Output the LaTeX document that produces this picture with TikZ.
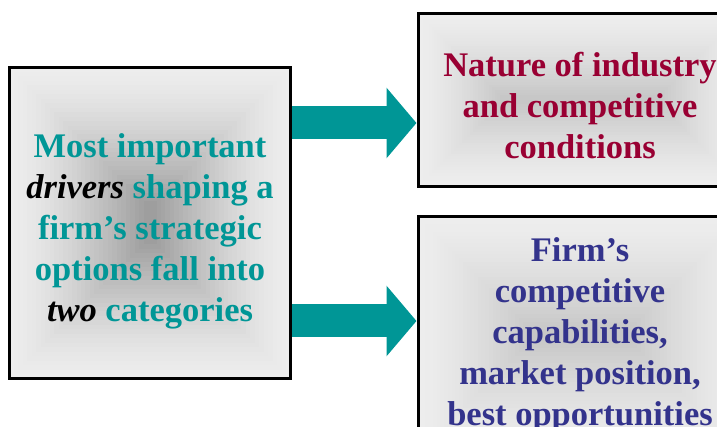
\documentclass[tikz,border=0pt]{standalone}
\usepackage{fontspec}
\setmainfont{Liberation Serif}
\usetikzlibrary{calc,arrows.meta}

\definecolor{driverteal}{RGB}{0,150,150}
\definecolor{industryred}{RGB}{153,0,51}
\definecolor{firmblue}{RGB}{51,51,140}

\tikzset{
  panel/.style 2 args={draw, line width=3pt, inner sep=0pt, align=center,
    font=\bfseries\fontsize{34.5}{41}\selectfont,
    path picture={
      \foreach \k in {0,...,30}{
        \pgfmathsetmacro{\tone}{7+(#1-7)*(\k/30)^1.4}
        \pgfmathsetmacro{\inset}{#2*\k/30}
        \fill[black!\tone]
          ($(path picture bounding box.south west)+(\inset pt,\inset pt)$)
          rectangle ($(path picture bounding box.north east)-(\inset pt,\inset pt)$);
      }}},
  fatarrow/.style={draw=driverteal, line width=33pt, -{Triangle[length=30pt,width=69pt]}},
}

\begin{document}
\begin{tikzpicture}[x=1pt, y=-1pt]
\useasboundingbox (0,0) rectangle (717,427);
\clip (0,0) rectangle (717,427);

\node[panel={38}{134}, minimum width=281pt, minimum height=311pt, text=driverteal]
  (drivers) at (150,223)
  {\rule{0pt}{40pt}Most important\\{\color{black}\itshape drivers} shaping a\\firm's strategic\\options fall into\\{\color{black}\itshape two} categories};
\node[panel={22}{82}, minimum width=324pt, minimum height=173pt, text=industryred]
  (industry) at (580,100)
  {\rule{0pt}{36pt}Nature of industry\\and competitive\\conditions};
\node[panel={22}{112}, minimum width=324pt, minimum height=236pt, text=firmblue]
  (firm) at (580,335)
  {Firm's\\competitive\\capabilities,\\market position,\\best opportunities};

\coordinate (upperstart) at ([yshift=100pt]drivers.east);
\coordinate (lowerstart) at ([yshift=-98pt]drivers.east);
\draw[fatarrow] (upperstart) -- (upperstart -| industry.west);
\draw[fatarrow] (lowerstart) -- (lowerstart -| firm.west);

\end{tikzpicture}
\end{document}
